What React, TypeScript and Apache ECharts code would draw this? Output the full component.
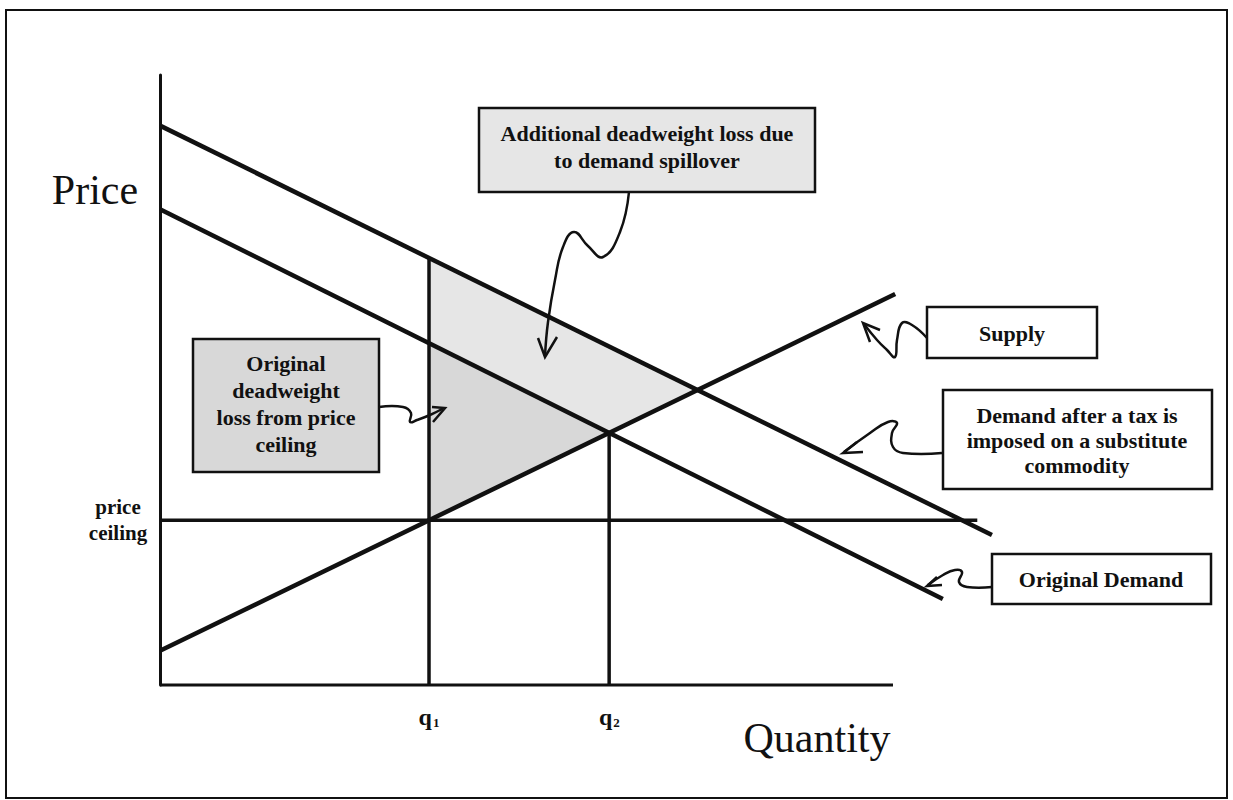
import React, { useEffect, useRef } from "react";
import * as echarts from "echarts";

// ---- data (chart units: quantity and price; the drawn quantity axis runs 0..100)
const supplyLine: number[][] = [[0, 5.6], [100.3, 64.1]];
const originalDemandLine: number[][] = [[0, 78.0], [106.8, 14.1]];
const taxDemandLine: number[][] = [[0, 91.7], [113.5, 24.6]];
const priceCeiling = 27.0;
const priceCeilingEnd = 111.5;
const quantityAxisEnd = 100;
const quantityTicks = [36.7, 61.3];
const quantitySubscripts = ["1", "2"];
const priceTicks = [priceCeiling];
const priceTickLabels = ["price\nceiling"];

const FONT = '"Liberation Serif", "Times New Roman", serif';
const INK = "#111111";

function valueAt(line: number[][], x: number): number {
  const [[x0, y0], [x1, y1]] = line;
  return y0 + ((y1 - y0) * (x - x0)) / (x1 - x0);
}
function intersect(a: number[][], b: number[][]): number[] {
  const sa = (a[1][1] - a[0][1]) / (a[1][0] - a[0][0]);
  const sb = (b[1][1] - b[0][1]) / (b[1][0] - b[0][0]);
  const ia = a[0][1] - sa * a[0][0];
  const ib = b[0][1] - sb * b[0][0];
  const x = (ib - ia) / (sa - sb);
  return [x, ia + sa * x];
}

export default function App() {
  const ref = useRef<HTMLDivElement>(null);

  useEffect(() => {
    if (!ref.current) return;
    const chart = echarts.init(ref.current, undefined, { renderer: "svg" });

    const q1 = quantityTicks[0];
    const origEq = intersect(supplyLine, originalDemandLine);
    const taxEq = intersect(supplyLine, taxDemandLine);
    const origAtQ1 = valueAt(originalDemandLine, q1);
    const taxAtQ1 = valueAt(taxDemandLine, q1);

    const polygons = [
      [[q1, origAtQ1], [q1, taxAtQ1], taxEq, origEq],
      [[q1, priceCeiling], [q1, origAtQ1], origEq],
    ];
    const polyColors = ["#e6e6e6", "#d8d8d8"];

    const lineSeries = (data: number[][], width: number, z = 3) => ({
      type: "line",
      data,
      symbol: "none",
      showSymbol: false,
      clip: false,
      silent: true,
      z,
      lineStyle: { color: INK, width, cap: "butt" },
    });

    const boxStyle = (fill: string) => ({ fill, stroke: INK, lineWidth: 2.5 });
    const textStyle = (text: string, x: number, y: number, lh: number) => ({
      type: "text",
      z: 100,
      style: {
        text,
        x,
        y,
        align: "center",
        verticalAlign: "middle",
        fontFamily: FONT,
        fontWeight: "bold",
        fontSize: 22,
        lineHeight: lh,
        fill: INK,
      },
    });
    const arrowPath = (points: number[][]) => ({
      type: "polyline",
      z: 100,
      shape: { points, smooth: 0.45 },
      style: { stroke: INK, lineWidth: 2.5, fill: "none" },
    });
    const arrowHead = (points: number[][]) => ({
      type: "polyline",
      z: 100,
      shape: { points },
      style: { stroke: INK, lineWidth: 2.5, fill: "none" },
    });

    const option: any = {
      animation: false,
      backgroundColor: "#ffffff",
      grid: { left: 160, top: 75, width: 842.95, height: 610 },
      xAxis: {
        type: "value",
        min: 0,
        max: 115,
        axisLine: { show: false },
        axisTick: { show: false },
        splitLine: { show: false },
        axisLabel: {
          customValues: quantityTicks,
          margin: 20,
          formatter: (v: number) => {
            let idx = 0;
            quantityTicks.forEach((t, i) => {
              if (Math.abs(t - v) < Math.abs(quantityTicks[idx] - v)) idx = i;
            });
            return `{q|q}{s|${quantitySubscripts[idx]}}`;
          },
          rich: {
            q: { fontFamily: FONT, fontWeight: "bold", fontSize: 24, color: INK, lineHeight: 24 },
            s: {
              fontFamily: FONT,
              fontWeight: "bold",
              fontSize: 13,
              color: INK,
              lineHeight: 24,
              verticalAlign: "bottom",
              padding: [6, 0, 0, 1],
            },
          },
        },
      },
      yAxis: {
        type: "value",
        min: 0,
        max: 100,
        axisLine: { show: true, onZero: false, lineStyle: { color: INK, width: 3 } },
        axisTick: { show: false },
        splitLine: { show: false },
        axisLabel: {
          customValues: priceTicks,
          margin: 42,
          align: "center",
          formatter: (v: number) => {
            let idx = 0;
            priceTicks.forEach((t, i) => {
              if (Math.abs(t - v) < Math.abs(priceTicks[idx] - v)) idx = i;
            });
            return priceTickLabels[idx];
          },
          fontFamily: FONT,
          fontWeight: "bold",
          fontSize: 21,
          lineHeight: 26,
          color: INK,
        },
      },
      series: [
        {
          type: "custom",
          coordinateSystem: "cartesian2d",
          silent: true,
          z: 1,
          data: polygons.map((_, i) => [i, 0]),
          renderItem: (params: any, api: any) => ({
            type: "polygon",
            shape: { points: polygons[params.dataIndex].map((p) => api.coord(p)) },
            style: { fill: polyColors[params.dataIndex], stroke: "none" },
          }),
        },
        lineSeries([[0, 0], [quantityAxisEnd, 0]], 3, 4),
        lineSeries(supplyLine, 4.5),
        lineSeries(originalDemandLine, 4.5),
        lineSeries(taxDemandLine, 4.5),
        lineSeries([[0, priceCeiling], [priceCeilingEnd, priceCeiling]], 3.5),
        lineSeries([[q1, 0], [q1, taxAtQ1]], 3.5),
        lineSeries([[origEq[0], 0], origEq], 3.5),
      ],
      graphic: [
        {
          type: "rect",
          z: 100,
          shape: { x: 6, y: 10, width: 1221, height: 788 },
          style: { fill: "none", stroke: INK, lineWidth: 2 },
        },
        {
          type: "text",
          z: 100,
          style: {
            text: "Price",
            x: 95,
            y: 190,
            align: "center",
            verticalAlign: "middle",
            fontFamily: FONT,
            fontSize: 42,
            fill: INK,
          },
        },
        {
          type: "text",
          z: 100,
          style: {
            text: "Quantity",
            x: 817,
            y: 738,
            align: "center",
            verticalAlign: "middle",
            fontFamily: FONT,
            fontSize: 42,
            fill: INK,
          },
        },
        { type: "rect", z: 100, shape: { x: 479, y: 108, width: 336, height: 84 }, style: boxStyle("#e6e6e6") },
        textStyle("Additional deadweight loss due\nto demand spillover", 647, 147, 27),
        arrowPath([[629, 192], [620, 232], [603, 257], [588, 246], [574, 232], [563, 247], [555, 280], [548, 322], [545, 356]]),
        arrowHead([[538, 338], [545, 357], [557, 337]]),
        { type: "rect", z: 100, shape: { x: 927, y: 307, width: 170, height: 51 }, style: boxStyle("#ffffff") },
        textStyle("Supply", 1012, 333, 24),
        arrowPath([[927, 338], [912, 325], [902, 323], [897, 340], [895, 357], [887, 350], [877, 340], [864, 324]]),
        arrowHead([[880, 330], [863, 323], [870, 342]]),
        { type: "rect", z: 100, shape: { x: 943, y: 390, width: 269, height: 99 }, style: boxStyle("#ffffff") },
        textStyle("Demand after a tax is\nimposed on a substitute\ncommodity", 1077, 440, 25),
        arrowPath([[942, 453], [903, 453], [893, 447], [892, 433], [897, 423], [888, 422], [870, 433], [844, 452]]),
        arrowHead([[857, 442], [843, 453], [863, 452]]),
        { type: "rect", z: 100, shape: { x: 992, y: 554, width: 219, height: 50 }, style: boxStyle("#ffffff") },
        textStyle("Original Demand", 1101, 579, 24),
        arrowPath([[992, 587], [967, 587], [959, 582], [962, 572], [955, 570], [943, 575], [928, 585]]),
        arrowHead([[937, 577], [927, 586], [942, 585]]),
        { type: "rect", z: 100, shape: { x: 193, y: 339, width: 186, height: 133 }, style: boxStyle("#d8d8d8") },
        textStyle("Original\ndeadweight\nloss from price\nceiling", 286, 404, 27),
        arrowPath([[379, 407], [403, 407], [411, 413], [410, 422], [417, 420], [430, 415], [444, 408]]),
        arrowHead([[432, 407], [445, 408], [433, 422]]),
      ],
    };

    chart.setOption(option);
    return () => chart.dispose();
  }, []);

  return (
    <div
      ref={ref}
      style={{ position: "fixed", left: 0, top: 0, width: 1233, height: 800, background: "#fff" }}
    />
  );
}
